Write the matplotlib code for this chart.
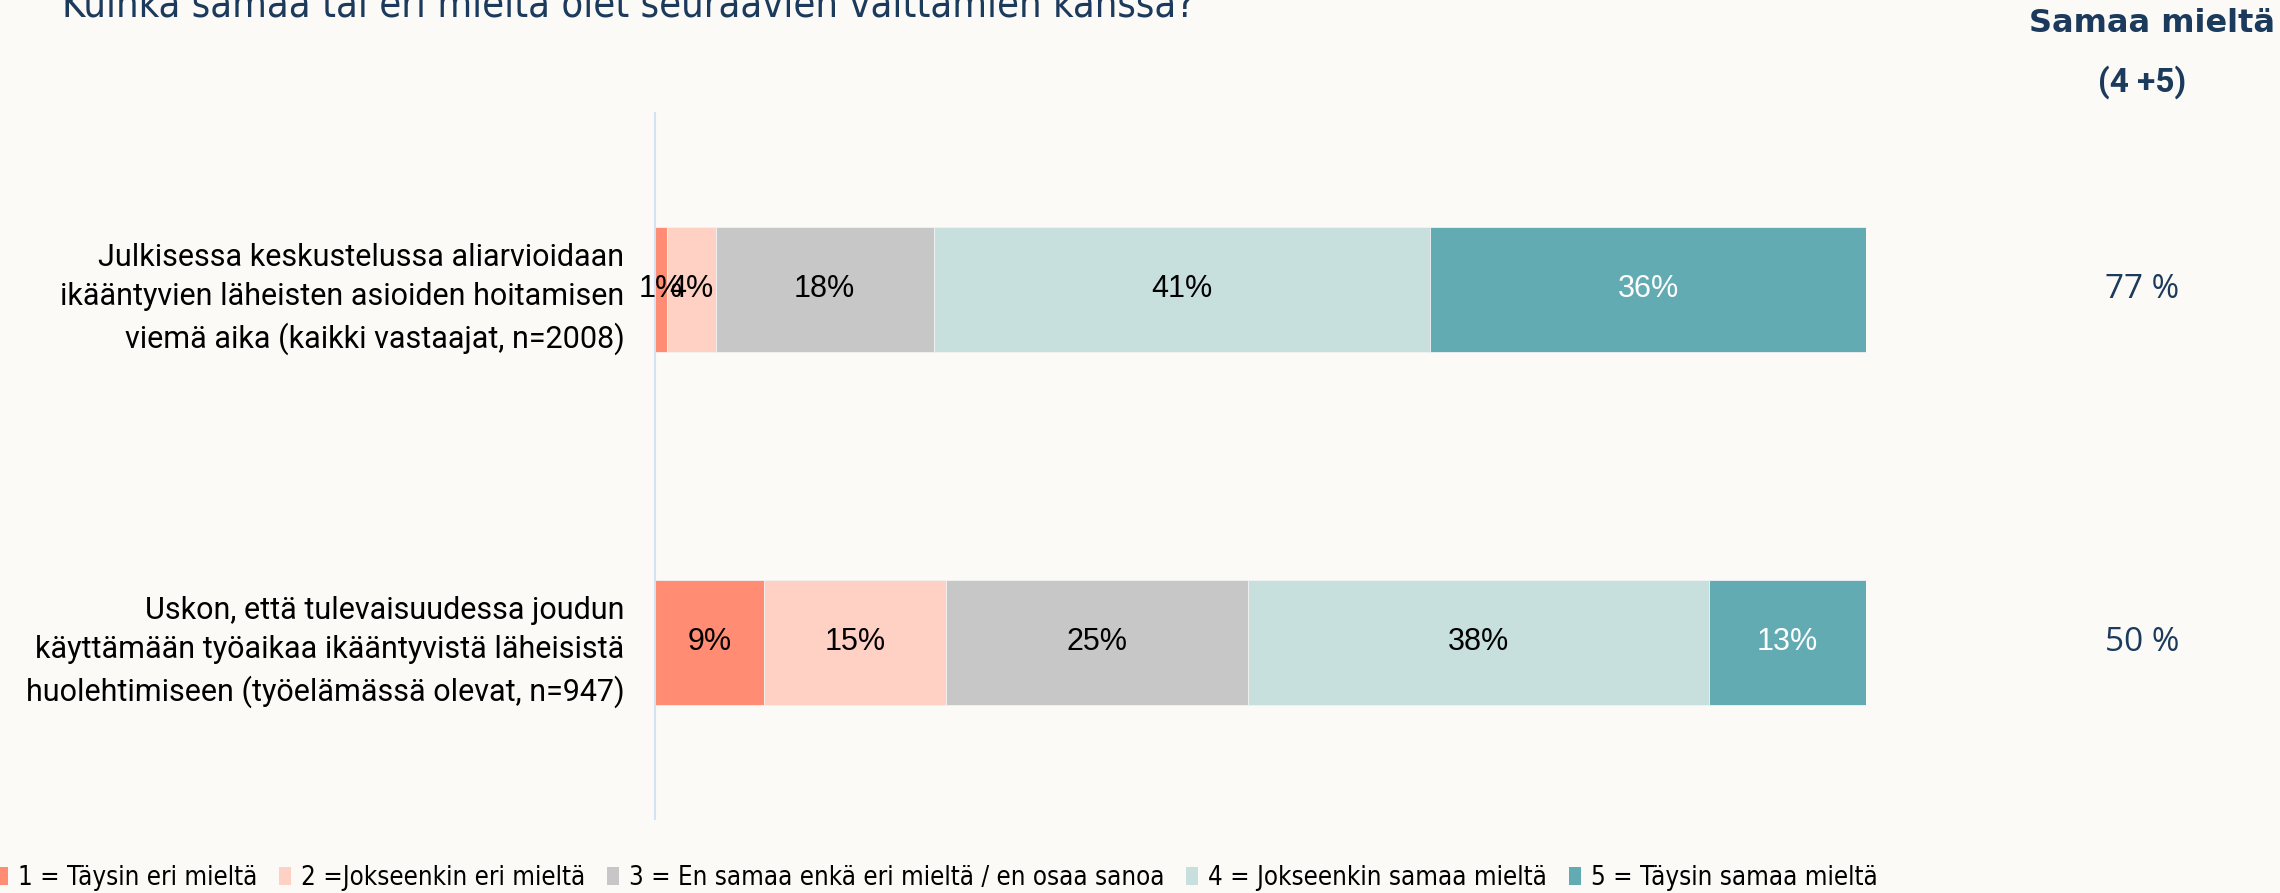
import matplotlib
matplotlib.use("Agg")
import matplotlib.pyplot as plt
import matplotlib.transforms as mtransforms
from matplotlib import font_manager
from matplotlib.patches import Patch
import numpy as np

# data
questions = [
    "Julkisessa keskustelussa aliarvioidaan\nikääntyvien läheisten asioiden hoitamisen\nviemä aika (kaikki vastaajat, n=2008)",
    "Uskon, että tulevaisuudessa joudun\nkäyttämään työaikaa ikääntyvistä läheisistä\nhuolehtimiseen (työelämässä olevat, n=947)",
]
categories = [
    "1 = Täysin eri mieltä",
    "2 =Jokseenkin eri mieltä",
    "3 = En samaa enkä eri mieltä / en osaa sanoa",
    "4 = Jokseenkin samaa mieltä",
    "5 = Täysin samaa mieltä",
]
values = np.array([
    [1, 4, 18, 41, 36],
    [9, 15, 25, 38, 13],
])
agree_totals = ["77 %", "50 %"]

colors = ["#FF8C73", "#FFD0C4", "#C7C7C7", "#C7E0DE", "#62ABB3"]
label_colors = ["black", "black", "black", "black", "white"]
navy = "#1B3A5C"
bg = "#FBFAF7"

# narrow font for title and legend, if there is one
have_cond = any(f.name == "DejaVu Sans" and f.stretch == "condensed"
                for f in font_manager.fontManager.ttflist)
if have_cond:
    narrow = dict(family="DejaVu Sans", stretch="condensed")
    title_size, legend_size = 28.5, 18.5
else:
    narrow = dict(family="DejaVu Sans")
    title_size, legend_size = 26, 16.5

fig = plt.figure(figsize=(22.8, 8.93), dpi=100, facecolor=bg)
ax = fig.add_axes([0.2873, 0.0829, 0.5311, 0.7906])
ax.set_facecolor(bg)

y = np.arange(len(questions))
left = np.zeros(len(questions))
for i in range(len(categories)):
    bars = ax.barh(y, values[:, i], left=left, height=0.353, color=colors[i],
                   edgecolor="#F2F2F2", linewidth=0.6, label=categories[i])
    ax.bar_label(bars, labels=[f"{v}%" for v in values[:, i]], label_type="center",
                 color=label_colors[i], fontsize=22, family="Liberation Sans")
    left += values[:, i]

ax.set_xlim(0, 100)
ax.set_ylim(1.5, -0.5)
ax.set_yticks(y)
ax.set_yticklabels(questions, fontsize=22, family="Roboto", linespacing=1.45)
ax.tick_params(axis="y", length=0, pad=22)
ax.set_xticks([])
for s in ["top", "right", "bottom"]:
    ax.spines[s].set_visible(False)
ax.spines["left"].set_color("#D3E2F4")
ax.spines["left"].set_linewidth(1.5)

# agree column
trans = mtransforms.blended_transform_factory(fig.transFigure, ax.transData)
for yi, txt in zip(y, agree_totals):
    ax.text(0.9395, yi, txt, transform=trans, ha="center", va="center",
            fontsize=24, color=navy, family="Open Sans")
fig.text(0.944, 0.974, "Samaa mieltä", ha="center", va="center",
         fontsize=23, fontweight="bold", color=navy, family="DejaVu Sans")
fig.text(0.9395, 0.908, "(4 +5)", ha="center", va="center",
         fontsize=24, fontweight="bold", color=navy, family="Roboto")

# title (partly cut at the top like the original)
fig.text(0.027, 0.981, "Kuinka samaa tai eri mieltä olet seuraavien väittämien kanssa?",
         ha="left", va="baseline", fontsize=title_size, color=navy, **narrow)

handles = [Patch(facecolor=c) for c in colors]
fig.legend(handles, categories, loc="center left", bbox_to_anchor=(-0.002, 0.017),
           ncol=5, frameon=False, handlelength=0.47, handletextpad=0.39,
           columnspacing=0.85, borderaxespad=0, borderpad=0,
           prop=dict(size=legend_size, **narrow))

fig.savefig("out.png", dpi=100, facecolor=bg)
